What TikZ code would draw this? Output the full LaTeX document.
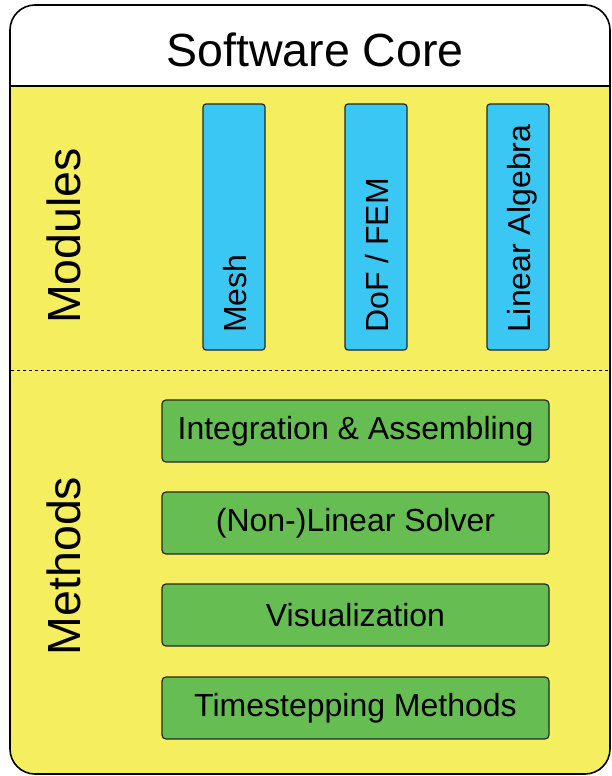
\documentclass[tikz,border=0pt]{standalone}
\usepackage{fontspec}
\setmainfont{Liberation Sans}
\definecolor{coreyellow}{HTML}{F5EF60}
\definecolor{modblue}{HTML}{3BC7F4}
\definecolor{methgreen}{HTML}{66BD52}
\begin{document}
\begin{tikzpicture}[x=1pt,y=-1pt,
  modbox/.style={draw=black!85, line width=1.2pt, fill=modblue, rounded corners=3pt},
  methbox/.style={draw=black!85, line width=1.2pt, fill=methgreen, rounded corners=4pt, minimum width=387pt, minimum height=62pt, inner sep=0pt, font=\fontsize{32}{36}\selectfont},
  modtext/.style={rotate=90, anchor=base west, inner sep=0pt, font=\fontsize{32}{36}\selectfont},
  sidelabel/.style={rotate=90, anchor=base, inner sep=0pt, font=\fontsize{46.5}{52}\selectfont}]
\useasboundingbox (0,0) rectangle (611,776);
% outer box
\fill[coreyellow, rounded corners=25pt] (10,5) rectangle (610,774);
\begin{scope}
  \clip[rounded corners=25pt] (10,5) rectangle (610,774);
  \fill[white] (0,0) rectangle (611,86);
\end{scope}
\draw[line width=1.6pt, rounded corners=25pt] (10,5) rectangle (610,774);
\draw[line width=1.3pt] (10,86) -- (610,86);
\draw[line width=0.9pt, dash pattern=on 3pt off 3pt] (11,370) -- (610,370);
\node[inner sep=0pt, font=\fontsize{46.5}{52}\selectfont] (title) at (315,50) {Software Core};
% side labels
\node[sidelabel] (modules) at (80,236) {Modules};
\node[sidelabel] (methods) at (80,566) {Methods};
% module boxes
\draw[modbox] (203,104) rectangle (265,350);
\draw[modbox] (345,104) rectangle (407,350);
\draw[modbox] (487,104) rectangle (549,350);
\node[modtext] (mesh) at (246,333) {Mesh};
\node[modtext] (dof) at (388,333) {DoF / FEM};
\node[modtext] (linalg) at (530,333) {Linear Algebra};
% method boxes
\node[methbox] (integ) at (355.5,431) {Integration \& Assembling};
\node[methbox] (solver) at (355.5,523) {(Non-)Linear Solver};
\node[methbox] (vis) at (355.5,615) {Visualization};
\node[methbox] (time) at (355.5,708) {Timestepping Methods};
\end{tikzpicture}
\end{document}
